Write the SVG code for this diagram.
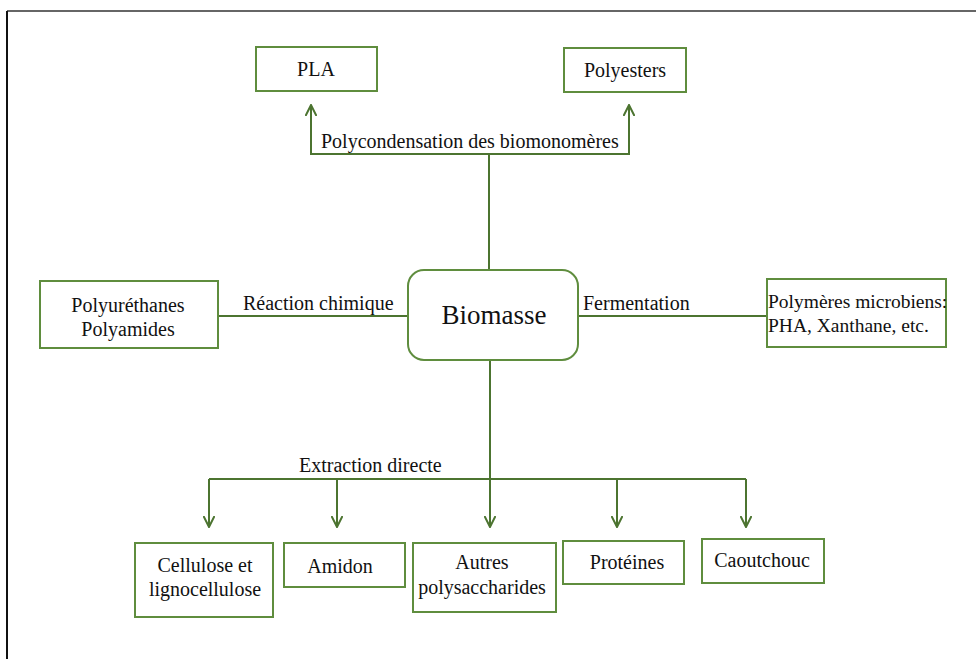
<svg xmlns="http://www.w3.org/2000/svg" width="976" height="659" viewBox="0 0 976 659">
<style>
.box{fill:#fff;stroke:#5f8d3e;stroke-width:2}
.t{font-family:"Liberation Serif","Tinos","Times New Roman","DejaVu Serif",serif;font-size:20px;fill:#111}
.c{text-anchor:middle}
.ln{fill:none;stroke:#4c7430;stroke-width:2}
.ar{marker-end:url(#arr)}
</style>
<defs>
<marker id="arr" viewBox="0 0 12 12" refX="11" refY="6" markerWidth="12" markerHeight="12" markerUnits="userSpaceOnUse" orient="auto">
<path d="M0,0.5 L11,6 L0,11.5" fill="none" stroke="#4c7430" stroke-width="2"/>
</marker>
</defs>
<rect width="976" height="659" fill="#fff"/>
<line x1="7" y1="11" x2="976" y2="11" stroke="#666" stroke-width="2"/>
<line x1="7" y1="11" x2="7" y2="659" stroke="#111" stroke-width="2"/>

<g id="connectors">
<line class="ln" x1="489" y1="270" x2="489" y2="154"/>
<polyline class="ln ar" points="489,154 311,154 311,105"/>
<polyline class="ln ar" points="489,154 629,154 629,105"/>
<line class="ln" x1="218" y1="316" x2="408" y2="316"/>
<line class="ln" x1="578" y1="316" x2="767" y2="316"/>
<line class="ln ar" x1="490" y1="360" x2="490" y2="527"/>
<line class="ln" x1="209" y1="479" x2="746" y2="479"/>
<line class="ln ar" x1="209" y1="479" x2="209" y2="527"/>
<line class="ln ar" x1="337" y1="479" x2="337" y2="527"/>
<line class="ln ar" x1="617" y1="479" x2="617" y2="527"/>
<line class="ln ar" x1="746" y1="479" x2="746" y2="527"/>
<text class="t" x="321" y="148">Polycondensation des biomonomères</text>
<text class="t" x="243" y="310">Réaction chimique</text>
<text class="t" x="583" y="310">Fermentation</text>
<text class="t" x="299" y="472">Extraction directe</text>
</g>

<g id="pla"><rect class="box" x="256" y="47" width="121" height="44"/><text class="t c" x="316" y="76">PLA</text></g>
<g id="polyesters"><rect class="box" x="564" y="48" width="122" height="44"/><text class="t c" x="625" y="77">Polyesters</text></g>
<g id="biomasse"><rect class="box" x="408" y="270" width="170" height="90" rx="16"/><text class="t c" x="494" y="324" style="font-size:27px">Biomasse</text></g>
<g id="polyurethanes"><rect class="box" x="40" y="281" width="178" height="67"/><text class="t c" x="128" y="312">Polyuréthanes</text><text class="t c" x="128" y="336">Polyamides</text></g>
<g id="microbiens"><rect class="box" x="767" y="279" width="179" height="68"/><text class="t" x="768" y="308" style="font-size:19.5px">Polymères microbiens:</text><text class="t" x="768" y="332" style="font-size:19.5px">PHA, Xanthane, etc.</text></g>
<g id="cellulose"><rect class="box" x="135" y="543" width="138" height="74"/><text class="t c" x="205" y="572">Cellulose et</text><text class="t c" x="205" y="596">lignocellulose</text></g>
<g id="amidon"><rect class="box" x="284" y="543" width="121" height="44"/><text class="t c" x="340" y="573">Amidon</text></g>
<g id="autres"><rect class="box" x="413" y="543" width="143" height="69"/><text class="t c" x="482" y="569">Autres</text><text class="t c" x="482" y="594">polysaccharides</text></g>
<g id="proteines"><rect class="box" x="563" y="541" width="121" height="43"/><text class="t c" x="627" y="569">Protéines</text></g>
<g id="caoutchouc"><rect class="box" x="702" y="539" width="122" height="44"/><text class="t c" x="762" y="567">Caoutchouc</text></g>
</svg>
